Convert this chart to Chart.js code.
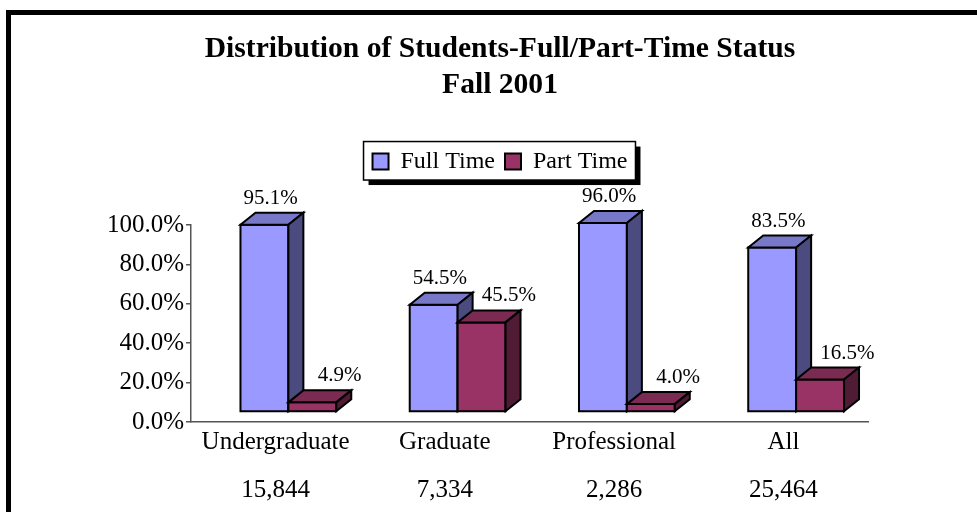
<!DOCTYPE html>
<html>
<head>
<meta charset="utf-8">
<script src="https://cdn.jsdelivr.net/npm/chart.js@4"></script>
<style>
  html, body { margin: 0; padding: 0; background: #fff; overflow: hidden; }
  #frame { position: absolute; left: 6px; top: 10px; width: 1100px; height: 600px; border: 5px solid #000; }
  #wrap { position: absolute; left: 0; top: 0; width: 977px; height: 512px; }
</style>
</head>
<body>
<div id="frame"></div>
<div id="wrap"><canvas id="statusChart" width="977" height="512"></canvas></div>
<script>
// chart values
const categories = ['Undergraduate', 'Graduate', 'Professional', 'All'];
const headcounts = ['15,844', '7,334', '2,286', '25,464'];
const fullTime = [95.1, 54.5, 96.0, 83.5];
const partTime = [4.9, 45.5, 4.0, 16.5];
const seriesNames = ['Full Time', 'Part Time'];

const serif = "'Liberation Serif', 'Times New Roman', serif";

// 3D look: the front face sits a bit behind the axis line, then the box depth
const shift = { x: 12.75, y: -10 };
const depth = { x: 15, y: -12 };
const faces = [
    { front: '#9999FF', top: '#7878C8', side: '#4B4B80', labelDx: 19 },
    { front: '#993366', top: '#7B2A52', side: '#4F1B35', labelDx: 40 }
];

function poly(ctx, pts, fill) {
    ctx.beginPath();
    ctx.moveTo(pts[0][0], pts[0][1]);
    for (let k = 1; k < pts.length; k++) ctx.lineTo(pts[k][0], pts[k][1]);
    ctx.closePath();
    ctx.fillStyle = fill;
    ctx.fill();
    ctx.stroke();
}

const bars3d = {
    id: 'bars3d',
    beforeLayout(chart) {
        // make room between the legend and the plot
        const lg = chart.legend;
        if (lg && !lg._tall) {
            const fit = lg.fit;
            lg.fit = function () { fit.call(this); this.height = 85.5; };
            lg._tall = true;
        }
    },
    afterLayout(chart) {
        // the y labels hang further left than the narrow axis box
        const y = chart.scales.y;
        y.left -= 40;
        y.width += 40;
    },
    beforeDraw(chart) {
        // legend frame with its shadow
        const hb = chart.legend.legendHitBoxes;
        if (!hb || !hb.length) return;
        const ctx = chart.ctx;
        const last = hb[hb.length - 1];
        const cy = hb[0].top + hb[0].height / 2;
        const x0 = hb[0].left - 9, x1 = last.left + last.width + 8;
        const y0 = cy - 20, y1 = cy + 18.5;
        ctx.save();
        ctx.fillStyle = '#000';
        ctx.fillRect(x0 + 5, y0 + 5, x1 - x0, y1 - y0);
        ctx.fillStyle = '#fff';
        ctx.fillRect(x0, y0, x1 - x0, y1 - y0);
        ctx.strokeStyle = '#000';
        ctx.lineWidth = 1.5;
        ctx.strokeRect(x0, y0, x1 - x0, y1 - y0);
        ctx.restore();
    },
    beforeDatasetDraw() {
        return false;
    },
    afterDatasetsDraw(chart) {
        const ctx = chart.ctx;
        ctx.save();
        ctx.lineWidth = 2;
        ctx.strokeStyle = '#000';
        ctx.lineJoin = 'miter';
        const n = chart.data.labels.length;
        for (let i = 0; i < n; i++) {
            chart.data.datasets.forEach((ds, d) => {
                const bar = chart.getDatasetMeta(d).data[i];
                const p = bar.getProps(['x', 'y', 'base', 'width'], true);
                const l = p.x - p.width / 2 + shift.x, r = p.x + p.width / 2 + shift.x;
                const t = p.y + shift.y, b = p.base + shift.y;
                poly(ctx, [[l, t], [r, t], [r, b], [l, b]], faces[d].front);
                poly(ctx, [[l, t], [l + depth.x, t + depth.y], [r + depth.x, t + depth.y], [r, t]], faces[d].top);
                poly(ctx, [[r, t], [r + depth.x, t + depth.y], [r + depth.x, b + depth.y], [r, b]], faces[d].side);
            });
        }
        // value labels
        ctx.fillStyle = '#000';
        ctx.font = '21px ' + serif;
        ctx.textAlign = 'center';
        ctx.textBaseline = 'alphabetic';
        chart.data.datasets.forEach((ds, d) => {
            chart.getDatasetMeta(d).data.forEach((bar, i) => {
                const p = bar.getProps(['x', 'y'], true);
                ctx.fillText(ds.data[i].toFixed(1) + '%', p.x + faces[d].labelDx, p.y + shift.y + depth.y - 9);
            });
        });
        ctx.restore();
    }
};

const ctx = document.getElementById('statusChart').getContext('2d');

new Chart(ctx, {
    type: 'bar',
    data: {
        labels: categories.map((c, i) => [c, '', headcounts[i]]),
        datasets: [
            { label: seriesNames[0], data: fullTime, backgroundColor: faces[0].front, borderColor: '#000', borderWidth: 2 },
            { label: seriesNames[1], data: partTime, backgroundColor: faces[1].front, borderColor: '#000', borderWidth: 2 }
        ]
    },
    options: {
        responsive: false,
        animation: false,
        events: [],
        layout: { padding: { left: 132, right: 109, top: 0, bottom: 2 } },
        datasets: { bar: { categoryPercentage: 0.566, barPercentage: 1.0 } },
        plugins: {
            title: {
                display: true,
                text: ['Distribution of Students-Full/Part-Time Status', 'Fall 2001'],
                color: '#000',
                font: { family: serif, size: 29.6, weight: 'bold', lineHeight: 1.2 },
                padding: { top: 32, bottom: 36.5 }
            },
            legend: {
                display: true,
                position: 'top',
                labels: {
                    color: '#000',
                    boxWidth: 16,
                    boxHeight: 16,
                    padding: 10,
                    font: { family: serif, size: 24 }
                }
            },
            tooltip: { enabled: false }
        },
        scales: {
            x: {
                grid: { display: false, drawTicks: false },
                border: { display: true, color: '#555', width: 1.5 },
                ticks: {
                    color: '#000',
                    padding: 8,
                    maxRotation: 0,
                    autoSkip: false,
                    font: { family: serif, size: 25, lineHeight: 0.96 }
                }
            },
            y: {
                min: 0,
                max: 100,
                afterFit(scale) { scale.width = 59; },
                grid: { display: true, drawOnChartArea: false, drawTicks: true, tickLength: 5, color: '#555', lineWidth: 1.5 },
                border: { display: true, color: '#555', width: 1.5 },
                ticks: {
                    stepSize: 20,
                    padding: 2,
                    color: '#000',
                    font: { family: serif, size: 25 },
                    callback: v => v.toFixed(1) + '%'
                }
            }
        }
    },
    plugins: [bars3d]
});
</script>
</body>
</html>
